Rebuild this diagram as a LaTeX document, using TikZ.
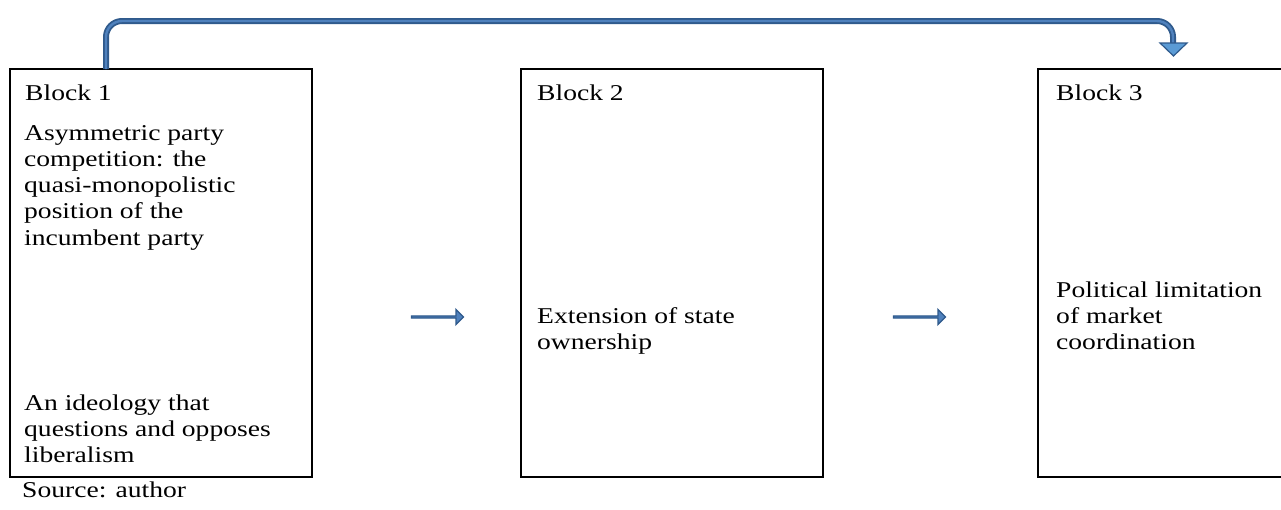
\documentclass[tikz,border=0pt]{standalone}
\usepackage{fontspec}
\setmainfont[FakeStretch=1.22]{Liberation Serif}
\usetikzlibrary{shapes.arrows,arrows.meta}
\definecolor{arrdark}{HTML}{2F5A8C}
\definecolor{arrlight}{HTML}{4F81BD}
\definecolor{headfill}{HTML}{5B9BD5}
\tikzset{
  blockbox/.style={draw=black,line width=2.6pt},
  txt/.style={anchor=north west,inner sep=0pt,align=left,font=\fontsize{22.6}{26.2}\selectfont},
  flowarrow/.style={single arrow,draw=arrdark,fill=arrlight,line width=1.3pt,
    minimum height=52pt,minimum width=15pt,single arrow head extend=4pt,inner sep=0pt,
    single arrow head indent=0pt}
}
\begin{document}
\begin{tikzpicture}[x=1pt,y=-1pt]
\useasboundingbox (0,0) rectangle (1281,509);
\clip (0,0) rectangle (1281,509);
% boxes
\draw[blockbox] (10,69) rectangle (312,477);
\draw[blockbox] (521,69) rectangle (823,477);
\draw[blockbox] (1038,69) rectangle (1340,477);
\coordinate (b1top) at (106,69);
\coordinate (b3top) at (1173,43);
% texts (y = baseline - 18.3 for strut)
\node[txt] (t1) at (25,81.7) {\strut Block 1};
\node[txt] (t1a) at (24,121.7) {\strut Asymmetric party\\competition: the\\quasi-monopolistic\\position of the\\incumbent party};
\node[txt] (t1b) at (24,391.7) {\strut An ideology that\\questions and opposes\\liberalism};
\node[txt] (src) at (22,478.7) {\strut Source: author};
\node[txt] (t2) at (537,81.7) {\strut Block 2};
\node[txt] (t2a) at (537,304.7) {\strut Extension of state\\ownership};
\node[txt] (t3) at (1056,81.7) {\strut Block 3};
\node[txt] (t3a) at (1056,278.7) {\strut Political limitation\\of market\\coordination};
% horizontal arrows
\node[flowarrow] (a1) at (437,317) {};
\node[flowarrow] (a2) at (919,317) {};
% top connector
\draw[arrdark,line width=6pt,rounded corners=16pt] (b1top) -- (106,21) -- (1173,21) -- (b3top);
\draw[arrlight,line width=2.4pt,rounded corners=16pt] (b1top) -- (106,21) -- (1173,21) -- (b3top);
\draw[arrdark,line width=1.2pt,fill=headfill,line join=miter] (1160,43) -- (1187,43) -- (1173.5,56) -- cycle;
\end{tikzpicture}
\end{document}
